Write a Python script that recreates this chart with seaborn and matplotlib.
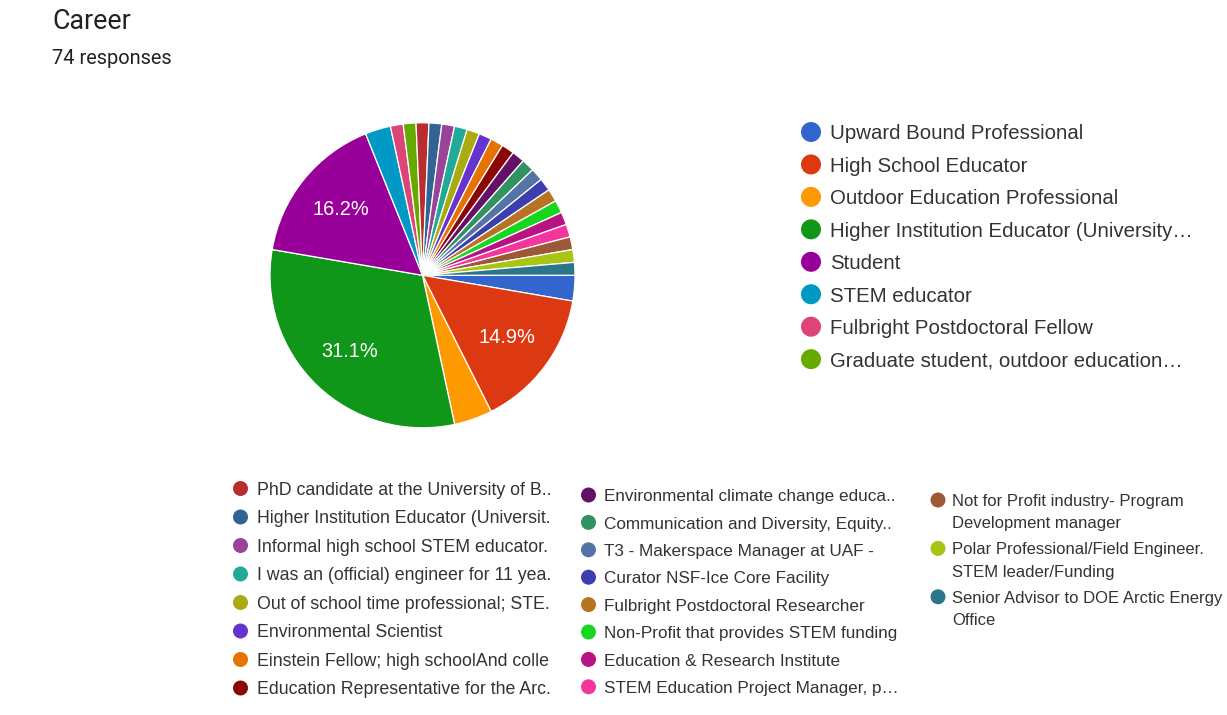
import matplotlib
matplotlib.use("Agg")
import matplotlib.pyplot as plt
from matplotlib import font_manager as fm
import seaborn as sns

# ---------------- data ----------------
title = "Career"
subtitle = "74 responses"

main_labels = [
    "Upward Bound Professional",
    "High School Educator",
    "Outdoor Education Professional",
    "Higher Institution Educator (University\u2026",
    "Student",
    "STEM educator",
    "Fulbright Postdoctoral Fellow",
    "Graduate student, outdoor education\u2026",
]
main_counts = [2, 11, 3, 23, 12, 2, 1, 1]

col1_labels = [
    "PhD candidate at the University of B..",
    "Higher Institution Educator (Universit.",
    "Informal high school STEM educator.",
    "I was an (official) engineer for 11 yea.",
    "Out of school time professional; STE.",
    "Environmental Scientist",
    "Einstein Fellow; high schoolAnd colle",
    "Education Representative for the Arc.",
]
col1_counts = [1, 1, 1, 1, 1, 1, 1, 1]

col2_labels = [
    "Environmental climate change educa..",
    "Communication and Diversity, Equity..",
    "T3 - Makerspace Manager at UAF -",
    "Curator NSF-Ice Core Facility",
    "Fulbright Postdoctoral Researcher",
    "Non-Profit that provides STEM funding",
    "Education & Research Institute",
    "STEM Education Project Manager, p\u2026",
]
col2_counts = [1, 1, 1, 1, 1, 1, 1, 1]

col3_labels = [
    "Not for Profit industry- Program\nDevelopment manager",
    "Polar Professional/Field Engineer.\nSTEM leader/Funding",
    "Senior Advisor to DOE Arctic Energy\nOffice",
]
col3_counts = [1, 1, 1]

palette_hex = [
    "#3366cc", "#dc3912", "#ff9900", "#109618", "#990099", "#0099c6",
    "#dd4477", "#66aa00", "#b82e2e", "#316395", "#994499", "#22aa99",
    "#aaaa11", "#6633cc", "#e67300", "#8b0707", "#651067", "#329262",
    "#5574a6", "#3b3eac", "#b77322", "#16d620", "#b91383", "#f4359e",
    "#9c5935", "#a9c413", "#2a778d",
]

# ---------------- style ----------------
sns.set_theme(style="white")
plt.rcParams["font.family"] = ["Liberation Sans", "DejaVu Sans"]

roboto_file = None
for f in fm.fontManager.ttflist:
    if f.fname.endswith("Roboto-Regular.ttf"):
        roboto_file = f.fname
        break


def title_font(size):
    if roboto_file:
        return fm.FontProperties(fname=roboto_file, size=size)
    return fm.FontProperties(family="Liberation Sans", size=size)


all_labels = main_labels + col1_labels + col2_labels + col3_labels
all_counts = main_counts + col1_counts + col2_counts + col3_counts
colors = sns.color_palette(palette_hex[: len(all_counts)])

W, H = 1227, 715
fig = plt.figure(figsize=(W / 100, H / 100), dpi=100)
fig.patch.set_facecolor("white")

# ---------------- pie ----------------
cx, cy, r = 422.5, 275.3, 152.5
pax = fig.add_axes([(cx - r) / W, 1 - (cy + r) / H, 2 * r / W, 2 * r / H])


def fmt(p):
    return f"{p:.1f}%" if p > 10 else ""


wedges, texts, autotexts = pax.pie(
    all_counts,
    colors=colors,
    startangle=0,
    counterclock=False,
    radius=1,
    autopct=fmt,
    pctdistance=0.69,
    wedgeprops=dict(edgecolor="white", linewidth=0.9),
    textprops=dict(color="white", fontsize=14.4),
)
pax.set_xlim(-1, 1)
pax.set_ylim(-1, 1)
pax.set_aspect("equal")
pax.axis("off")

# ---------------- text / legends (overlay in pixel coords) ----------------
ov = fig.add_axes([0, 0, 1, 1])
ov.set_xlim(0, W)
ov.set_ylim(H, 0)
ov.axis("off")

ov.text(52, 29, title, fontproperties=title_font(19.3), color="#202124",
        va="baseline", ha="left")
ov.text(52, 63.5, subtitle, fontproperties=title_font(14.4), color="#202124",
        va="baseline", ha="left")

text_color = "#333333"


def draw_legend(labels, color_list, mx, tx, y0, dy, fs, msize, line_px=22.3):
    px = fs / 72 * 100
    for i, (lab, col) in enumerate(zip(labels, color_list)):
        y = y0 + i * dy
        ov.scatter([mx], [y], s=msize ** 2, color=col, edgecolors="none")
        lines = lab.split("\n")
        for k, line in enumerate(lines):
            ov.text(tx, y + 0.36 * px + k * line_px, line, fontsize=fs,
                    color=text_color, va="baseline", ha="left")


n0 = len(main_labels)
n1 = n0 + len(col1_labels)
n2 = n1 + len(col2_labels)

draw_legend(main_labels, colors[:n0], 811, 830, 132, 32.45, 14.7, 14.4)
draw_legend(col1_labels, colors[n0:n1], 240.5, 257, 488.5, 28.5, 12.8, 10.8)
draw_legend(col2_labels, colors[n1:n2], 588.5, 604.5, 495, 27.4, 12.3, 10.8)
draw_legend(col3_labels, colors[n2:], 938, 952, 500, 48.4, 12.0, 10.8)

fig.savefig("out.png", dpi=100, facecolor="white")
